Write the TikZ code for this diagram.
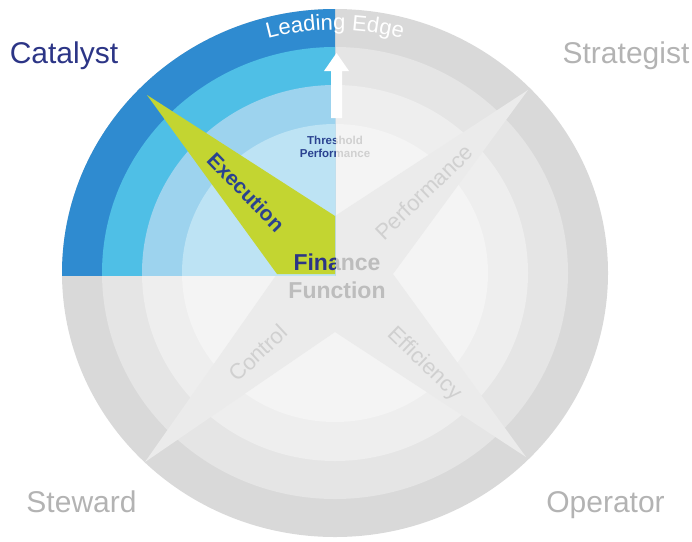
\documentclass[tikz,border=0pt]{standalone}
\usepackage{fontspec}
\setmainfont{Liberation Sans}
\usetikzlibrary{decorations.text}
\definecolor{gA}{HTML}{D9D9D9}
\definecolor{gB}{HTML}{E5E5E5}
\definecolor{gC}{HTML}{EEEEEE}
\definecolor{gD}{HTML}{F4F4F4}
\definecolor{gStar}{HTML}{EBEBEB}
\definecolor{bA}{HTML}{2F8BD0}
\definecolor{bB}{HTML}{4FBFE6}
\definecolor{bC}{HTML}{9DD3EE}
\definecolor{bD}{HTML}{BDE3F4}
\definecolor{ylw}{HTML}{C3D531}
\definecolor{navy}{HTML}{2C3586}
\definecolor{navyB}{HTML}{2A4290}
\definecolor{roleGray}{HTML}{B3B3B3}
\definecolor{spokeGray}{HTML}{D0D0D0}
\definecolor{centerGray}{HTML}{BDBDBD}
\tikzset{
  role/.style={anchor=base, font=\fontsize{30}{30}\selectfont, text=roleGray, inner sep=0pt},
  spoke/.style={font=\fontsize{22}{22}\selectfont, text=spokeGray, inner sep=0pt},
  thr/.style={anchor=base, font=\bfseries\fontsize{11.5}{11.5}\selectfont, inner sep=0pt},
  fin/.style={anchor=base, font=\bfseries\fontsize{23}{23}\selectfont, inner sep=0pt},
}
\begin{document}
\begin{tikzpicture}[x=1pt,y=1pt]
\useasboundingbox (0,0) rectangle (692,-541);
\coordinate (C) at (335,-273);
% gray rings
\fill[gA] (C) ellipse[x radius=273pt, y radius=264pt];
\fill[gB] (C) ellipse[x radius=233pt, y radius=226pt];
\fill[gC] (C) ellipse[x radius=193pt, y radius=188pt];
\fill[gD] (C) ellipse[x radius=153pt, y radius=149pt];
% gray star
\fill[gStar] (147,-95) -- (335,-216) -- (528,-90) -- (393,-274) -- (526,-457) -- (335,-332) -- (145,-462) -- (277,-274) -- cycle;
% gray texts (partly overdrawn)
\node[thr, text=spokeGray] (thrG) at (335,-144) {Threshold};
\node[thr, text=spokeGray] (perfG) at (335,-157) {Performance};
\node[fin, text=centerGray] (finG) at (337,-270) {Finance};
% coloured quadrant
\begin{scope}
\clip (0,0) rectangle (335,-275);
\fill[bA] (C) ellipse[x radius=273pt, y radius=264pt];
\fill[bB] (C) ellipse[x radius=233pt, y radius=226pt];
\fill[bC] (C) ellipse[x radius=193pt, y radius=188pt];
\fill[bD] (C) ellipse[x radius=153pt, y radius=149pt];
\fill[ylw] (147,-95) -- (335,-216) -- (335,-274) -- (277,-274) -- cycle;
\node[thr, text=navyB] (thrB) at (335,-144) {Threshold};
\node[thr, text=navyB] (perfB) at (335,-157) {Performance};
\node[fin, text=navy] (finB) at (337,-270) {Finance};
\end{scope}
% arrow
\fill[white] (331,-118) -- (331,-71) -- (324,-71) -- (336.5,-53) -- (349,-71) -- (342,-71) -- (342,-118) -- cycle;
% leading edge
\path[decorate, decoration={text along path, text align=center,
  text={|\fontsize{22}{22}\selectfont\color{white}|Leading Edge}}]
  (C) ++(150:250pt and 243pt) arc[start angle=150, end angle=30, x radius=250pt, y radius=243pt];
% center texts
\node[fin, text=centerGray] (func) at (337,-298) {Function};
\node[font=\bfseries\fontsize{21}{21}\selectfont, text=navyB, rotate=-46, inner sep=0pt] (exec) at (246,-192) {Execution};
\node[spoke, rotate=44] (perf) at (424,-192) {Performance};
\node[spoke, rotate=43] (ctrl) at (258,-353) {Control};
\node[spoke, rotate=-44] (eff) at (424,-364) {Efficiency};
% role labels
\node[role, text=navy] (cat) at (64,-63) {Catalyst};
\node[role] (strat) at (626,-63) {Strategist};
\node[role] (stew) at (81.5,-512) {Steward};
\node[role] (oper) at (605.5,-512) {Operator};
\end{tikzpicture}
\end{document}
